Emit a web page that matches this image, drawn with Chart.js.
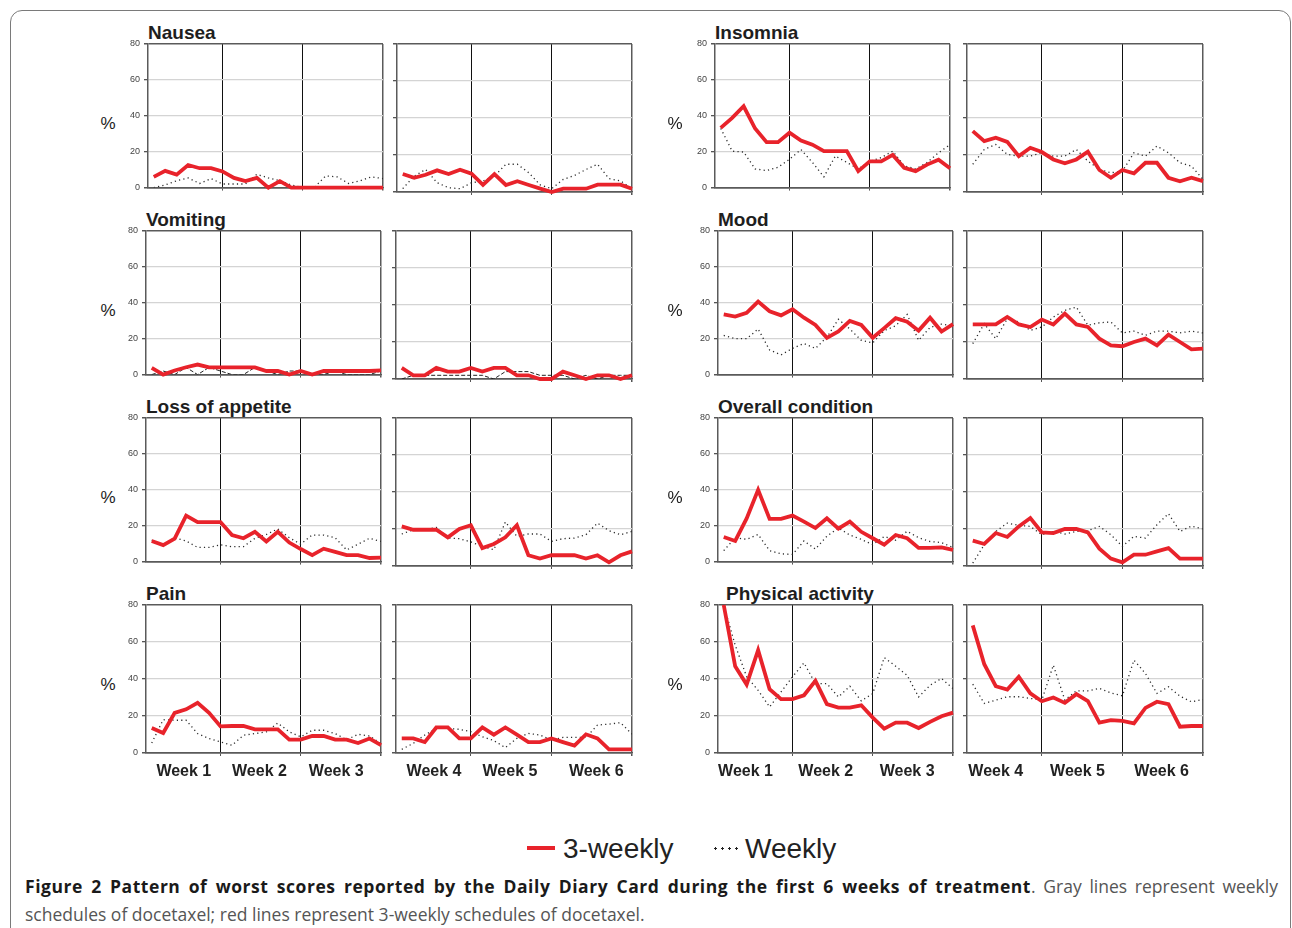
<!DOCTYPE html>
<html>
<head>
<meta charset="utf-8">
<script src="https://cdn.jsdelivr.net/npm/chart.js@4.4.1/dist/chart.umd.min.js"></script>
<style>
  html, body { margin:0; padding:0; }
  body { width:1292px; height:928px; background:#fff; position:relative; overflow:hidden;
         font-family:"Liberation Sans", Arial, sans-serif; }
  .frame { position:absolute; left:10px; top:10px; width:1281px; height:1000px;
           border:1.5px solid #7a7a7a; border-radius:12px; box-sizing:border-box; }
  .title { position:absolute; font-weight:bold; font-size:19px; line-height:19px; color:#1e1e1e; white-space:nowrap; }
  .pct { position:absolute; font-size:17px; line-height:17px; color:#222; width:30px; text-align:center; }
  canvas { position:absolute; }
  .legend { position:absolute; top:829px; left:0; width:1292px; height:40px; font-size:28px; color:#222; }
  .legend span { position:absolute; line-height:40px; top:0; }
  .caption { position:absolute; left:25px; top:872px; width:1253px; font-family:"Open Sans", sans-serif;
             font-size:17.5px; line-height:28px; color:#555; text-align:justify; }
  .caption b { color:#1a1a1a; letter-spacing:0.55px; }
</style>
</head>
<body>
<div class="frame"></div>
<div id="root"></div>
<div class="legend">
  <div style="position:absolute;left:527px;top:17px;width:28px;height:4px;background:#e8232b"></div>
  <span id="lg1" style="left:563px"></span>
  <div style="position:absolute;left:712px;top:18px;width:28px;height:3px;background-image:radial-gradient(circle,#222 1.1px,transparent 1.4px);background-size:7px 3px;"></div>
  <span id="lg2" style="left:745px"></span>
</div>
<div class="caption"><b>Figure 2 Pattern of worst scores reported by the Daily Diary Card during the first 6 weeks of treatment</b>. Gray lines represent weekly schedules of docetaxel; red lines represent 3-weekly schedules of docetaxel.</div>

<script>
// ---------------- DATA ----------------
const seriesNames = ['3-weekly', 'Weekly'];
const weekLabels = ['Week 1', 'Week 2', 'Week 3', 'Week 4', 'Week 5', 'Week 6'];
const yTickValues = [0, 20, 40, 60, 80];
const dayIndex = [0,1,2,3,4,5,6,7,8,9,10,11,12,13,14,15,16,17,18,19,20];
const weekBoundaryDays = [6, 13, 20];

// each series: weeks 1-3 (21 values) then weeks 4-6 (21 values)
const nausea3w = [6, 9.3, 7.2, 12.6, 10.8, 10.8, 9, 5.4, 3.6, 5.4, 0, 3.6, 0, 0, 0, 0, 0, 0, 0, 0, 0,
                  9.7, 7.7, 9.3, 11.7, 9.7, 12, 9.9, 3.8, 9.7, 3.8, 5.8, 3.8, 1.8, 0, 1.8, 1.8, 1.8, 4, 4, 4, 1.8];
const nauseaW  = [0, 1.5, 3.8, 5.4, 2.3, 5, 2, 2, 2, 7.4, 5.4, 3.8, 1.5, 0, 0, 6.5, 6, 2.3, 3.8, 6, 5,
                  1.8, 8.6, 12.2, 5, 2.3, 1.8, 5, 6, 8.6, 15, 15, 10.4, 3.8, 1.8, 6.8, 9, 12.2, 15, 7.2, 6, 1.8];

const insomnia3w = [33.3, 38.8, 45.3, 32.9, 25.3, 25.3, 30.6, 26.2, 23.9, 20.3, 20.3, 20.3, 9.2, 14.6, 14.6, 18.2, 11, 9.2, 12.8, 15.5, 10.8,
                    32.9, 27.5, 29.3, 27.1, 19.4, 23.9, 21.6, 17.6, 15.5, 17.6, 21.8, 11.9, 7.7, 11.9, 10.1, 15.8, 15.8, 7.7, 5.8, 7.7, 5.9];
const insomniaW  = [33, 20.3, 19.8, 10.4, 9.5, 11.3, 15.8, 21.2, 14, 6, 17.6, 14, 10.4, 14.6, 16.7, 20.3, 12.2, 10.4, 14, 19.4, 23.9,
                    15, 23, 25.7, 20.3, 19.4, 19.4, 21.2, 19.4, 19.4, 23, 16.7, 12.2, 10.4, 11.3, 21.2, 19.4, 24.8, 21.2, 15.8, 14, 6.8];

const vomiting3w = [3.8, 0, 2.3, 4.1, 5.6, 4, 4, 4, 4, 4, 2, 2, 0, 2, 0, 2, 2, 2, 2, 2, 2.3,
                    6, 2, 2, 6, 4, 4, 6, 4, 6, 6, 2, 2, 0, 0, 4, 2, 0, 2, 2, 0, 2];
const vomitingW  = [0, 2, 0, 4, 0, 4, 2, 0, 0, 4, 2, 0, 2, 2, 0, 0, 2, 0, 0, 0, 2,
                    0, 2, 2, 2, 2, 2, 2, 2, 0, 4, 4, 4, 2, 2, 2, 0, 2, 0, 2, 2, 2];

const mood3w = [33.5, 32.3, 34.4, 40.7, 35.3, 33, 36.4, 31.7, 27.7, 20.5, 24, 29.9, 27.7, 20.5, 25.9, 31.4, 29.5, 24.5, 31.7, 24, 28.1,
                29.5, 29.5, 29.5, 33.5, 29.5, 28.1, 32.1, 29.5, 35.3, 29.5, 28.1, 21.8, 18.2, 17.7, 20, 21.8, 18.2, 24, 20, 16, 16.4];
const moodW  = [21.8, 20, 20, 25.4, 13.7, 11, 14.6, 17.3, 14.6, 20.9, 30.8, 25.4, 19.1, 17.7, 24.5, 27.2, 33.5, 19.1, 26.3, 28.1, 27.2,
                19.1, 29.9, 21.8, 32.6, 30.8, 26.3, 28.1, 33.5, 37.1, 38.9, 29, 30.4, 30.8, 24.9, 25.9, 23.6, 25.9, 25.9, 24.9, 25.9, 24.9];

const appetite3w = [11.5, 9.2, 12.8, 25.6, 22, 22, 22, 14.8, 13, 16.6, 11.2, 16.6, 10.6, 7, 3.6, 7.2, 5.4, 3.6, 3.6, 2, 2.2,
                    21.4, 19.6, 19.6, 19.6, 15.5, 20, 22, 9.7, 11.9, 15.5, 22, 5.8, 4, 5.8, 5.8, 5.8, 4, 5.8, 2, 5.8, 7.9];
const appetiteW  = [12, 9.4, 13.3, 11.5, 7.9, 7.9, 9.4, 8.3, 8.3, 13, 15.1, 18.2, 13.3, 9.7, 14.8, 14.8, 13.3, 6.5, 9.7, 13, 11.2,
                    17.3, 19.6, 19.6, 20.9, 15.1, 14.8, 13, 10.6, 8.8, 23.8, 16, 17.3, 17.3, 13.3, 14.8, 15.1, 16.9, 23.2, 19.1, 16.9, 18.7];

const overall3w = [13.7, 11.5, 24.1, 40, 23.8, 23.8, 25.6, 22.3, 18.7, 24.1, 18.4, 22.3, 16.6, 13, 9.4, 14.8, 13, 7.6, 7.6, 7.9, 6.5,
                   13.7, 11.9, 17.8, 15.7, 21.4, 25.9, 18.2, 17.8, 20, 20, 18.2, 9.4, 4, 2, 6.1, 6.1, 7.9, 9.7, 4, 4, 4];
const overallW  = [6.1, 13.3, 12.4, 15.1, 6.1, 4.3, 4, 11.5, 7, 14.2, 18.7, 14.8, 12.4, 9.4, 14, 11.9, 16.9, 13.3, 11.2, 10.6, 7.9,
                   1.6, 11.5, 18.7, 23.2, 22, 21.4, 16.9, 18.7, 17.3, 18.7, 19.1, 21.4, 16.9, 10.6, 16, 15.1, 22.3, 28.3, 18.7, 21.6, 20];

const pain3w = [13.5, 10.8, 21.7, 23.6, 27.1, 21.7, 14.4, 14.6, 14.6, 12.8, 12.8, 12.8, 7.2, 7.2, 9.2, 9.2, 7.2, 7.2, 5.4, 7.8, 4.2,
                7.9, 7.9, 5.9, 13.8, 13.8, 7.9, 7.9, 13.8, 9.9, 13.8, 9.9, 5.9, 5.9, 7.9, 5.9, 4, 10.1, 7.9, 2, 2, 2];
const painW  = [5.4, 18, 17.7, 17.7, 10.5, 7.8, 6, 4.2, 9.6, 10.5, 11.4, 16.2, 11.4, 8.7, 12.3, 12.3, 10.5, 7.2, 10.1, 9.2, 5,
                2, 5.2, 9.7, 13.3, 13.3, 12.8, 11.5, 8.8, 6.7, 2.9, 7.9, 10.6, 9.7, 7, 8.4, 8.4, 8.4, 15.1, 15.6, 16.4, 10.2];

const physical3w = [80, 46.9, 37, 55.6, 34.5, 29.1, 29.1, 31.2, 39, 26.4, 24.5, 24.5, 25.8, 19.1, 13.2, 16.4, 16.4, 13.5, 16.8, 19.9, 21.8,
                    69, 48, 36.1, 34.3, 41.2, 32.2, 28, 30, 27.1, 31.8, 28, 16.4, 17.8, 17.4, 16, 24.4, 27.7, 26.4, 14.2, 14.6, 14.6];
const physicalW  = [80, 58.3, 41.2, 33.9, 24.9, 33, 41.2, 48.7, 37.5, 37.5, 30.3, 36.1, 28.2, 32.1, 51.6, 46.9, 42, 30.3, 36.6, 40.3, 34.8,
                    37.2, 26.8, 28.6, 30.4, 30.4, 29.5, 28.6, 47.5, 28.6, 33.6, 33.6, 34.9, 32.5, 30.9, 50.2, 43, 32.2, 35.8, 30.7, 27.7, 28.9];

// ---------------- LAYOUT ----------------
const panels = [
  {name:'Nausea',            r3:nausea3w,   rw:nauseaW,   row:0, col:0, dash:'dot'},
  {name:'Insomnia',          r3:insomnia3w, rw:insomniaW, row:0, col:1, dash:'dot'},
  {name:'Vomiting',          r3:vomiting3w, rw:vomitingW, row:1, col:0, dash:'dash'},
  {name:'Mood',              r3:mood3w,     rw:moodW,     row:1, col:1, dash:'dot'},
  {name:'Loss of appetite',  r3:appetite3w, rw:appetiteW, row:2, col:0, dash:'dot'},
  {name:'Overall condition', r3:overall3w,  rw:overallW,  row:2, col:1, dash:'dot'},
  {name:'Pain',              r3:pain3w,     rw:painW,     row:3, col:0, dash:'dot'},
  {name:'Physical activity', r3:physical3w, rw:physicalW, row:3, col:1, dash:'dot'}
];
const rowTop = [44, 231, 418, 605];
const plotH = 148;
// [leftChartL, leftChartR, rightChartL, rightChartR]
function colRect(row, col) {
  if (col === 0) return row === 0 ? [148, 383, 397, 632] : [146, 381, 396, 632];
  return row === 0 ? [715, 950, 967, 1203] : [718, 953, 967, 1203];
}
const pctX = [93, 660];
const titleDx = {'Physical activity': 8};
const weekTickPos = [[[2.8, 9.4, 16.1], [2.8, 9.4, 16.9]], [[1.9, 8.9, 16.0], [2.0, 9.1, 16.4]]];

const RED = '#e8232b';
const root = document.getElementById('root');
document.getElementById('lg1').textContent = seriesNames[0];
document.getElementById('lg2').textContent = seriesNames[1];

function addText(cls, text, left, top) {
  const d = document.createElement('div');
  d.className = cls; d.textContent = text;
  d.style.left = left + 'px'; d.style.top = top + 'px';
  root.appendChild(d);
}

panels.forEach(p => {
  const [aL, aR, bL, bR] = colRect(p.row, p.col);
  const T = rowTop[p.row];
  const bottomRow = p.row === 3;
  addText('title', p.name, aL + (titleDx[p.name] || 0), T - 21);
  addText('pct', '%', pctX[p.col], T + plotH / 2 - 3);

  [[aL, aR, 0], [bL, bR, 1]].forEach(([L, R, half]) => {
    const padL = 40, padT = 10, padR = 8, axH = 3, lblH = bottomRow ? 30 : 0, padB = 2;
    const cv = document.createElement('canvas');
    const W = (R - L) + padL + padR;
    const H = plotH + padT + axH + lblH + padB;
    cv.width = W; cv.height = H;
    cv.style.left = (L - padL) + 'px';
    cv.style.top = (T - padT) + 'px';
    cv.style.width = W + 'px'; cv.style.height = H + 'px';
    root.appendChild(cv);

    const v3 = p.r3.slice(half * 21, half * 21 + 21);
    const vw = p.rw.slice(half * 21, half * 21 + 21);
    const labels = weekLabels.slice(half * 3, half * 3 + 3);

    const scales = {
      x: {
        type: 'linear', min: -0.5, max: 20,
        afterBuildTicks: s => { s.ticks = weekBoundaryDays.map(v => ({value: v})); },
        ticks: {display: false},
        grid: {color: c => (c.tick && c.tick.value === 20) ? '#5a5a5a' : '#111',
               lineWidth: c => (c.tick && c.tick.value === 20) ? 1.5 : 1,
               drawTicks: true, tickLength: 3, tickColor: '#555'},
        border: {display: true, color: '#5a5a5a', width: 1.5},
        afterFit: s => { s.height = axH; }
      },
      y: {
        min: 0, max: 80,
        afterBuildTicks: s => { s.ticks = yTickValues.map(v => ({value: v})); },
        ticks: {display: half === 0, color: '#444', padding: 4,
                font: {family: '"Liberation Sans", Arial, sans-serif', size: 9}},
        grid: {color: c => (c.tick && (c.tick.value === 0 || c.tick.value === 80)) ? '#5a5a5a' : '#d4d4d4',
               lineWidth: c => (c.tick && (c.tick.value === 0 || c.tick.value === 80)) ? 1.5 : 1.3,
               drawTicks: true, tickLength: 4, tickColor: '#555'},
        border: {display: true, color: '#5a5a5a', width: 1.5},
        afterFit: s => { s.width = padL; }
      }
    };
    if (bottomRow) {
      scales.x2 = {
        type: 'linear', position: 'bottom', min: -0.5, max: 20, weight: 1,
        afterBuildTicks: s => { s.ticks = weekTickPos[p.col][half].map(v => ({value: v})); },
        ticks: {callback: (v, i) => labels[i], color: '#222', padding: 6, maxRotation: 0, autoSkip: false,
                font: {family: '"Liberation Sans", Arial, sans-serif', size: 16, weight: 'bold'}},
        grid: {display: false, drawTicks: false},
        border: {display: false},
        afterFit: s => { s.height = lblH; }
      };
    }

    new Chart(cv, {
      type: 'line',
      data: {
        datasets: [
          {label: seriesNames[1], data: dayIndex.map((d, i) => ({x: d, y: vw[i]})),
           borderColor: p.dash === 'dash' ? '#222' : '#2a2a2a', borderWidth: p.dash === 'dash' ? 1 : 1.3,
           borderDash: p.dash === 'dash' ? [4, 2] : [1.2, 3.2], pointRadius: 0, tension: 0, order: 2},
          {label: seriesNames[0], data: dayIndex.map((d, i) => ({x: d, y: v3[i]})),
           borderColor: RED, borderWidth: 3.8, pointRadius: 0, tension: 0, order: 1, clip: 4}
        ]
      },
      options: {
        responsive: false, animation: false, events: [],
        layout: {padding: {left: 0, top: padT, right: padR, bottom: padB}},
        plugins: {legend: {display: false}, tooltip: {enabled: false}},
        scales
      }
    });
  });
});
</script>
</body>
</html>
